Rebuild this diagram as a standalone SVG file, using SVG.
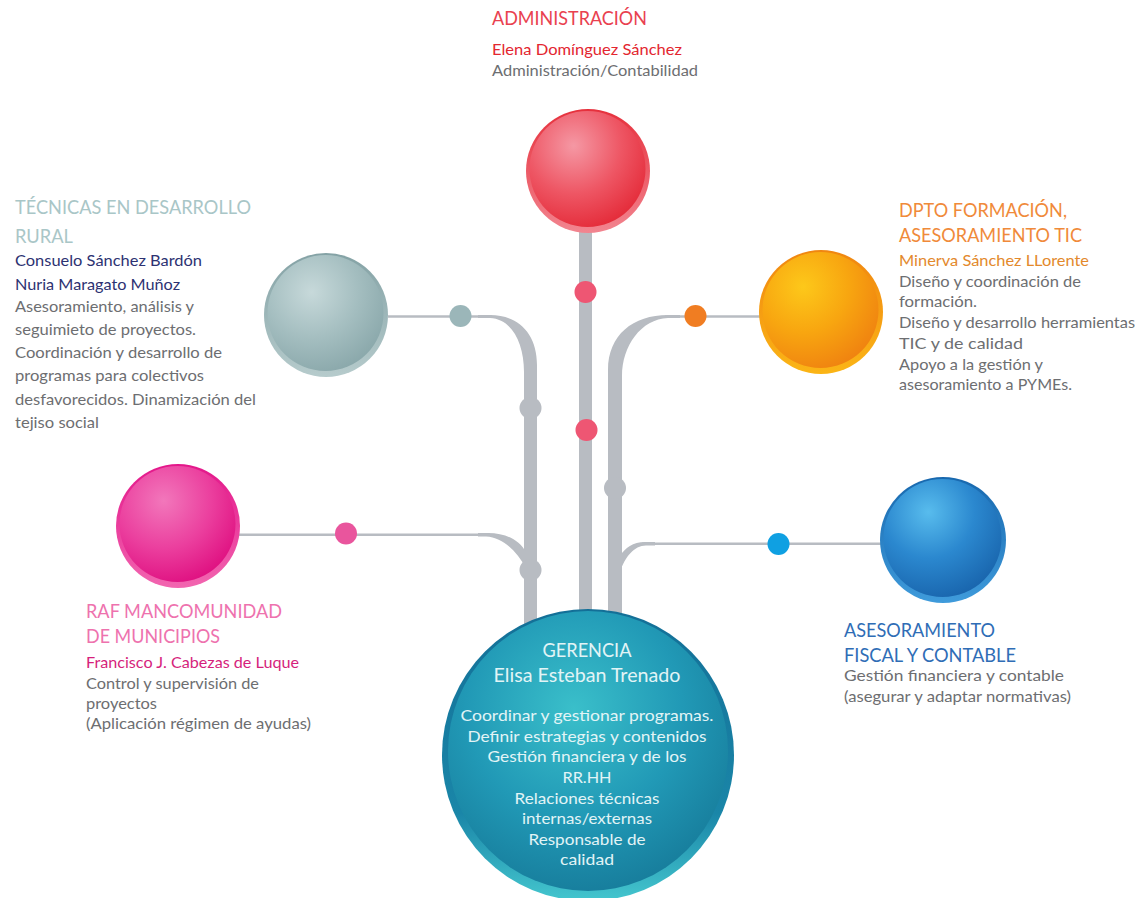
<svg xmlns="http://www.w3.org/2000/svg" width="1135" height="898" viewBox="0 0 1135 898">
  <style>
    text { font-family: "Lato", "Liberation Sans", sans-serif; }
    .ttl { font-size: 20px; }
    .nm { font-size: 16px; }
    .bd { font-size: 16px; fill: #6d6e71; }
    .ctr { fill: #e2f4f6; text-anchor: middle; }
    .trunk { fill: #b8bcc2; }
    .wire { stroke: #b8bcc2; stroke-width: 2.5; fill: none; }
    .knob { fill: #b8bcc2; }
  </style>
  <defs>
    <!-- outer rims: darker at top, lighter at the bottom -->
    <linearGradient id="rimRed" x1="0" y1="0" x2="0" y2="1">
      <stop offset="0" stop-color="#e6303c"/><stop offset="1" stop-color="#f28590"/>
    </linearGradient>
    <radialGradient id="diskRed" cx="0.38" cy="0.3" r="0.75">
      <stop offset="0" stop-color="#f598a4"/><stop offset="0.55" stop-color="#ee5664"/><stop offset="1" stop-color="#e42a38"/>
    </radialGradient>
    <linearGradient id="rimGray" x1="0" y1="0" x2="0" y2="1">
      <stop offset="0" stop-color="#84a2a5"/><stop offset="1" stop-color="#b6cbcc"/>
    </linearGradient>
    <radialGradient id="diskGray" cx="0.38" cy="0.32" r="0.75">
      <stop offset="0" stop-color="#c7d9da"/><stop offset="0.55" stop-color="#a3bdbf"/><stop offset="1" stop-color="#88a6a9"/>
    </radialGradient>
    <linearGradient id="rimOrange" x1="0" y1="0" x2="0" y2="1">
      <stop offset="0" stop-color="#f08610"/><stop offset="1" stop-color="#fbb516"/>
    </linearGradient>
    <radialGradient id="diskOrange" cx="0.35" cy="0.3" r="0.78">
      <stop offset="0" stop-color="#fdc81a"/><stop offset="0.5" stop-color="#f8a610"/><stop offset="1" stop-color="#ef8010"/>
    </radialGradient>
    <linearGradient id="rimPink" x1="0" y1="0" x2="0" y2="1">
      <stop offset="0" stop-color="#e3168a"/><stop offset="1" stop-color="#f266b0"/>
    </linearGradient>
    <radialGradient id="diskPink" cx="0.38" cy="0.3" r="0.75">
      <stop offset="0" stop-color="#f277bb"/><stop offset="0.55" stop-color="#eb3f9e"/><stop offset="1" stop-color="#df0f80"/>
    </radialGradient>
    <linearGradient id="rimBlue" x1="0" y1="0" x2="0" y2="1">
      <stop offset="0" stop-color="#1868ae"/><stop offset="1" stop-color="#3f9bdb"/>
    </linearGradient>
    <radialGradient id="diskBlue" cx="0.38" cy="0.28" r="0.78">
      <stop offset="0" stop-color="#58bced"/><stop offset="0.5" stop-color="#2b88cf"/><stop offset="1" stop-color="#1863ab"/>
    </radialGradient>
    <linearGradient id="rimTeal" x1="0" y1="0" x2="0" y2="1">
      <stop offset="0" stop-color="#136f97"/><stop offset="0.7" stop-color="#1a86a8"/><stop offset="1" stop-color="#44c6ce"/>
    </linearGradient>
    <radialGradient id="diskTeal" cx="0.45" cy="0.35" r="0.7">
      <stop offset="0" stop-color="#3abfca"/><stop offset="0.55" stop-color="#2199b6"/><stop offset="1" stop-color="#167a99"/>
    </radialGradient>
  </defs>

  <!-- connectors: trunks, branches, wires and dots -->
  <g id="connectors">
    <!-- central trunk -->
    <rect class="trunk" x="579" y="225" width="13" height="400"/>
    <!-- left trunk with curved top -->
    <path class="trunk" d="M 478 315 L 490 315 C 518 315 537 333 537 365 L 537 625 L 524 625 L 524 372 C 524 343 512 319 490 318 L 478 318 Z"/>
    <!-- right trunk with curved top -->
    <path class="trunk" d="M 680 315 L 668 315 C 633 315 608 335 608 370 L 608 625 L 622 625 L 622 376 C 622 346 641 319 668 318 L 680 318 Z"/>
    <!-- lower-left branch joining left trunk -->
    <path class="trunk" d="M 478 533 L 488 533 C 506 533 519 540 526 552 L 526 568 C 517 552 503 537 486 536.5 L 478 536.5 Z"/>
    <!-- lower-right branch joining right trunk -->
    <path class="trunk" d="M 655 542 L 645 542 C 633 542 625 548 620 556 L 620 572 C 625 557 634 545.5 646 545.5 L 655 545.5 Z"/>

    <!-- straight wires to the nodes -->
    <line class="wire" x1="388" y1="316.5" x2="492" y2="316.5"/>
    <line class="wire" x1="665" y1="316.5" x2="762" y2="316.5"/>
    <line class="wire" x1="238" y1="534.8" x2="490" y2="534.8"/>
    <line class="wire" x1="642" y1="543.8" x2="882" y2="543.8"/>

    <!-- knobs on the trunks -->
    <circle class="knob" cx="530.5" cy="408" r="11"/>
    <circle class="knob" cx="530.5" cy="570" r="11"/>
    <circle class="knob" cx="615" cy="488" r="11"/>

    <!-- coloured dots -->
    <circle cx="585.5" cy="292" r="11" fill="#ee5673"/>
    <circle cx="586.5" cy="430" r="11" fill="#ee5673"/>
    <circle cx="460.5" cy="316" r="11" fill="#9bb6b9"/>
    <circle cx="695.5" cy="316" r="11" fill="#f07d22"/>
    <circle cx="346" cy="533.5" r="11" fill="#e9559d"/>
    <circle cx="778.5" cy="544" r="11" fill="#0fa0e2"/>
  </g>

  <!-- ADMINISTRACIÓN -->
  <g id="node-administracion">
    <circle cx="588" cy="171" r="62" fill="url(#rimRed)"/>
    <circle cx="587.5" cy="169" r="58" fill="url(#diskRed)"/>
    <text class="ttl" x="492" y="25" fill="#e9414f" font-size="19" textLength="155" lengthAdjust="spacingAndGlyphs">ADMINISTRACIÓN</text>
    <text class="nm" x="492" y="55" fill="#e3262f" textLength="190" lengthAdjust="spacingAndGlyphs">Elena Domínguez Sánchez</text>
    <text class="bd" x="492" y="76" textLength="206" lengthAdjust="spacingAndGlyphs">Administración/Contabilidad</text>
  </g>

  <!-- TÉCNICAS EN DESARROLLO RURAL -->
  <g id="node-tecnicas">
    <circle cx="326" cy="315" r="62" fill="url(#rimGray)"/>
    <circle cx="325.5" cy="313" r="58" fill="url(#diskGray)"/>
    <text class="ttl" x="15" y="214" fill="#a9c6c7" textLength="236" lengthAdjust="spacingAndGlyphs">TÉCNICAS EN DESARROLLO</text>
    <text class="ttl" x="15" y="243" fill="#a9c6c7" textLength="58" lengthAdjust="spacingAndGlyphs">RURAL</text>
    <text class="nm" x="15" y="266" fill="#2d3272" textLength="187" lengthAdjust="spacingAndGlyphs">Consuelo Sánchez Bardón</text>
    <text class="nm" x="15" y="290" fill="#2d3272" textLength="165" lengthAdjust="spacingAndGlyphs">Nuria Maragato Muñoz</text>
    <text class="bd" x="15" y="312" textLength="179" lengthAdjust="spacingAndGlyphs">Asesoramiento, análisis y</text>
    <text class="bd" x="15" y="335" textLength="181" lengthAdjust="spacingAndGlyphs">seguimieto de proyectos.</text>
    <text class="bd" x="15" y="358" textLength="207" lengthAdjust="spacingAndGlyphs">Coordinación y desarrollo de</text>
    <text class="bd" x="15" y="381" textLength="189" lengthAdjust="spacingAndGlyphs">programas para colectivos</text>
    <text class="bd" x="15" y="405" textLength="241" lengthAdjust="spacingAndGlyphs">desfavorecidos. Dinamización del</text>
    <text class="bd" x="15" y="428" textLength="84" lengthAdjust="spacingAndGlyphs">tejiso social</text>
  </g>

  <!-- DPTO FORMACIÓN, ASESORAMIENTO TIC -->
  <g id="node-formacion">
    <circle cx="821" cy="312" r="62" fill="url(#rimOrange)"/>
    <circle cx="820.5" cy="310" r="58" fill="url(#diskOrange)"/>
    <text class="ttl" x="899" y="217" fill="#f08a3a" textLength="168" lengthAdjust="spacingAndGlyphs">DPTO FORMACIÓN,</text>
    <text class="ttl" x="899" y="242" fill="#f08a3a" textLength="183" lengthAdjust="spacingAndGlyphs">ASESORAMIENTO TIC</text>
    <text class="nm" x="899" y="266" fill="#e3892c" textLength="190" lengthAdjust="spacingAndGlyphs">Minerva Sánchez LLorente</text>
    <text class="bd" x="899" y="287" textLength="182" lengthAdjust="spacingAndGlyphs">Diseño y coordinación de</text>
    <text class="bd" x="899" y="307" textLength="78" lengthAdjust="spacingAndGlyphs">formación.</text>
    <text class="bd" x="899" y="328" textLength="236" lengthAdjust="spacingAndGlyphs">Diseño y desarrollo herramientas</text>
    <text class="bd" x="899" y="349" textLength="124" lengthAdjust="spacingAndGlyphs">TIC y de calidad</text>
    <text class="bd" x="899" y="370" textLength="144" lengthAdjust="spacingAndGlyphs">Apoyo a la gestión y</text>
    <text class="bd" x="899" y="390" textLength="173" lengthAdjust="spacingAndGlyphs">asesoramiento a PYMEs.</text>
  </g>

  <!-- RAF MANCOMUNIDAD DE MUNICIPIOS -->
  <g id="node-raf">
    <circle cx="178" cy="526" r="62" fill="url(#rimPink)"/>
    <circle cx="177.5" cy="524" r="58" fill="url(#diskPink)"/>
    <text class="ttl" x="86" y="618" fill="#ee72ae" textLength="196" lengthAdjust="spacingAndGlyphs">RAF MANCOMUNIDAD</text>
    <text class="ttl" x="86" y="643" fill="#ee72ae" textLength="134" lengthAdjust="spacingAndGlyphs">DE MUNICIPIOS</text>
    <text class="nm" x="86" y="668" fill="#d61f7c" textLength="213" lengthAdjust="spacingAndGlyphs">Francisco J. Cabezas de Luque</text>
    <text class="bd" x="86" y="689" textLength="173" lengthAdjust="spacingAndGlyphs">Control y supervisión de</text>
    <text class="bd" x="86" y="709" textLength="71" lengthAdjust="spacingAndGlyphs">proyectos</text>
    <text class="bd" x="86" y="729" textLength="225" lengthAdjust="spacingAndGlyphs">(Aplicación régimen de ayudas)</text>
  </g>

  <!-- ASESORAMIENTO FISCAL Y CONTABLE -->
  <g id="node-fiscal">
    <circle cx="943" cy="540" r="63" fill="url(#rimBlue)"/>
    <circle cx="942.5" cy="538" r="59" fill="url(#diskBlue)"/>
    <text class="ttl" x="844" y="637" fill="#2f6db6" textLength="151" lengthAdjust="spacingAndGlyphs">ASESORAMIENTO</text>
    <text class="ttl" x="844" y="662" fill="#2f6db6" textLength="172" lengthAdjust="spacingAndGlyphs">FISCAL Y CONTABLE</text>
    <text class="bd" x="844" y="681" textLength="220" lengthAdjust="spacingAndGlyphs">Gestión financiera y contable</text>
    <text class="bd" x="844" y="702" textLength="227" lengthAdjust="spacingAndGlyphs">(asegurar y adaptar normativas)</text>
  </g>

  <!-- GERENCIA -->
  <g id="node-gerencia">
    <circle cx="588" cy="755" r="146" fill="url(#rimTeal)"/>
    <circle cx="588" cy="751" r="140" fill="url(#diskTeal)"/>
    <text class="ctr" x="587" y="657" font-size="19" textLength="89" lengthAdjust="spacingAndGlyphs">GERENCIA</text>
    <text class="ctr" x="587" y="682" font-size="19" textLength="187" lengthAdjust="spacingAndGlyphs">Elisa Esteban Trenado</text>
    <text class="ctr" x="587" y="721" font-size="16" textLength="253" lengthAdjust="spacingAndGlyphs">Coordinar y gestionar programas.</text>
    <text class="ctr" x="587" y="742" font-size="16" textLength="239" lengthAdjust="spacingAndGlyphs">Definir estrategias y contenidos</text>
    <text class="ctr" x="587" y="762" font-size="16" textLength="199" lengthAdjust="spacingAndGlyphs">Gestión financiera y de los</text>
    <text class="ctr" x="587" y="783" font-size="16" textLength="49" lengthAdjust="spacingAndGlyphs">RR.HH</text>
    <text class="ctr" x="587" y="804" font-size="16" textLength="145" lengthAdjust="spacingAndGlyphs">Relaciones técnicas</text>
    <text class="ctr" x="587" y="824" font-size="16" textLength="130" lengthAdjust="spacingAndGlyphs">internas/externas</text>
    <text class="ctr" x="587" y="845" font-size="16" textLength="117" lengthAdjust="spacingAndGlyphs">Responsable de</text>
    <text class="ctr" x="587" y="865" font-size="16" textLength="54" lengthAdjust="spacingAndGlyphs">calidad</text>
  </g>
</svg>
